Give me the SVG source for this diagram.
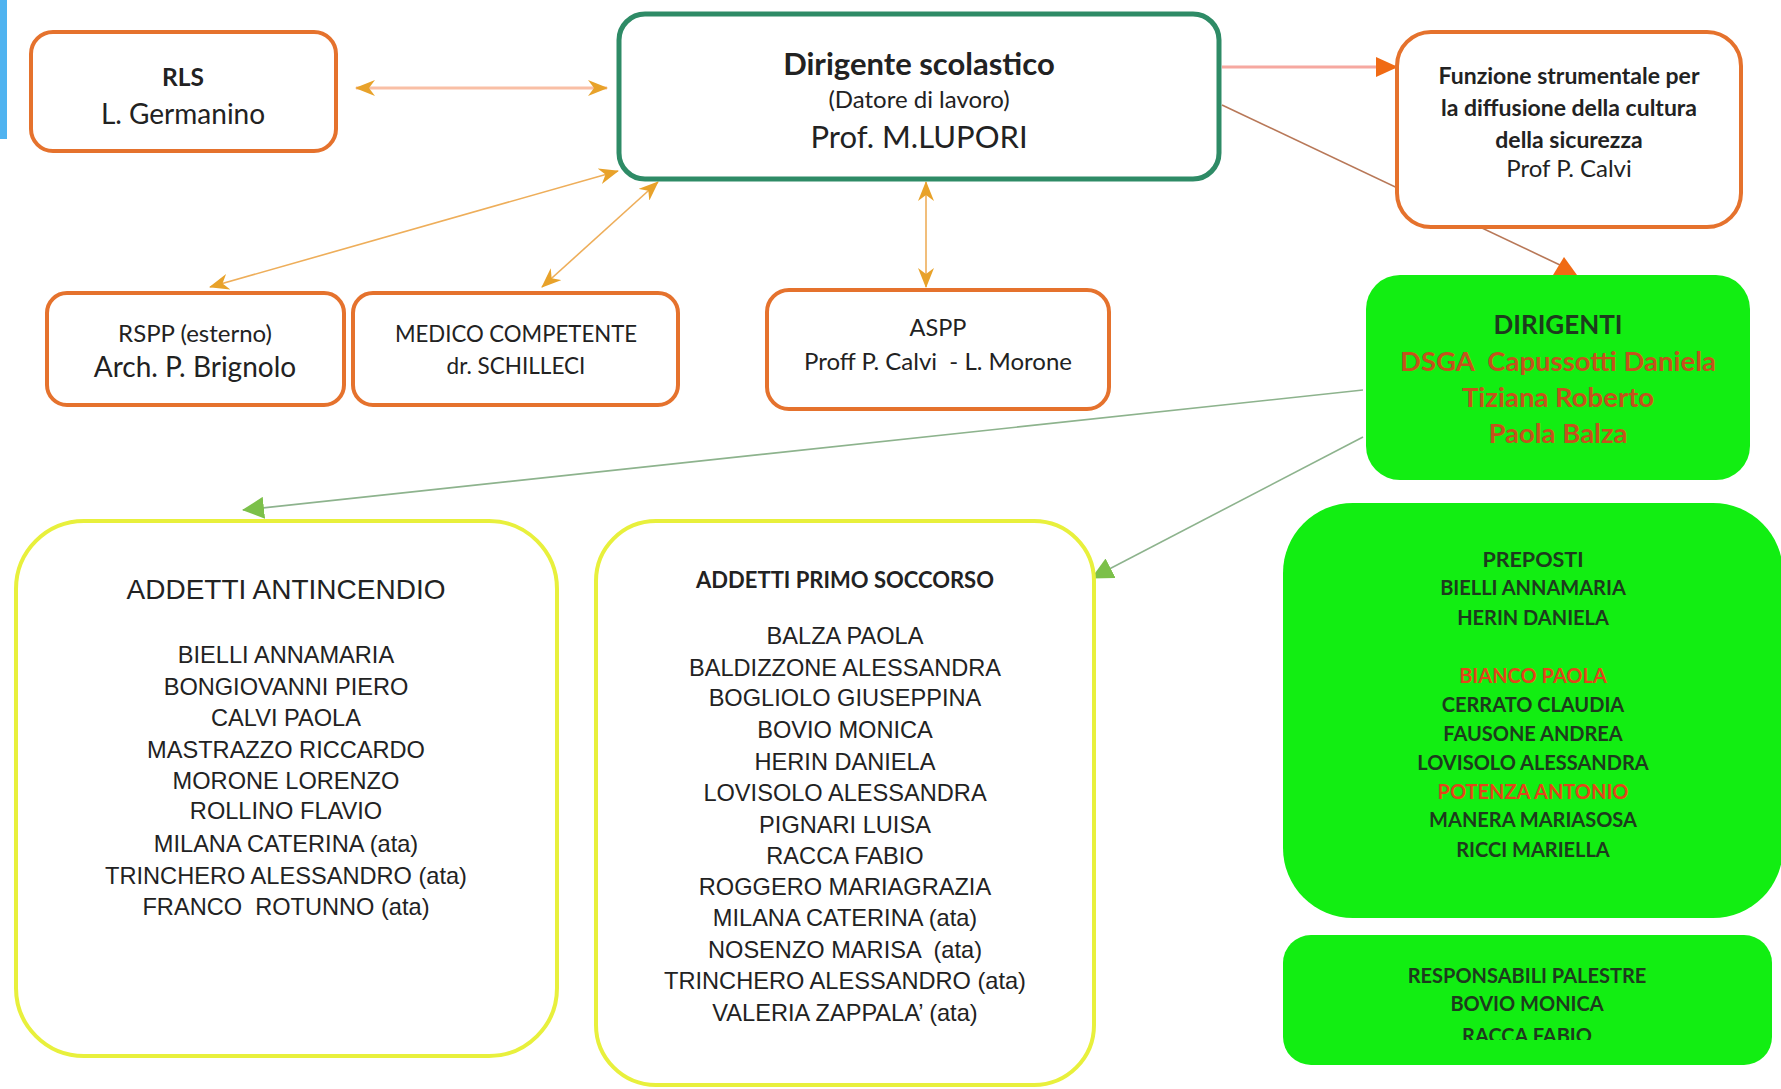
<svg xmlns="http://www.w3.org/2000/svg" width="1781" height="1089" viewBox="0 0 1781 1089">
<defs>
<style>
.cal{font-family:Lato,"Liberation Sans",sans-serif;fill:#222;text-anchor:middle}
.ari{font-family:"Liberation Sans",Arial,sans-serif;fill:#222;text-anchor:middle}
.b{font-weight:bold}
.ob{fill:#fff;stroke:#e5722d;stroke-width:4}
.yb{fill:#fff;stroke:#e8f03c;stroke-width:4}
.gb{fill:#12ee12;stroke:none}
.gt{fill:#1d3b1d}
.rt{fill:#c4521c}
.pt{fill:#e2451a}
.oa{stroke:#eeae5a;stroke-width:1.6;fill:none}
.ga{stroke:#8db38d;stroke-width:1.6;fill:none}
</style>
<marker id="arrO" markerUnits="userSpaceOnUse" markerWidth="20" markerHeight="16" refX="19" refY="8" orient="auto-start-reverse" viewBox="0 0 20 16">
<path d="M0,0 L20,8 L0,16 L6,8 z" fill="#e8a22a"/>
</marker>
<marker id="triO" markerUnits="userSpaceOnUse" markerWidth="22" markerHeight="20" refX="21" refY="10" orient="auto" viewBox="0 0 22 20">
<path d="M0,0 L22,10 L0,20 z" fill="#f06a14"/>
</marker>
<marker id="triG" markerUnits="userSpaceOnUse" markerWidth="22" markerHeight="22" refX="21" refY="11" orient="auto" viewBox="0 0 22 22">
<path d="M0,0 L22,11 L0,22 z" fill="#7cc04a"/>
</marker>
<clipPath id="clipResp"><rect x="1283" y="935" width="489" height="105"/></clipPath>
</defs>
<rect width="1781" height="1089" fill="#fff"/>
<rect x="0" y="0" width="7" height="139" fill="#4fb3f0"/>

<g id="connectors">
<line x1="356" y1="88" x2="607" y2="88" stroke="#f9bfa5" stroke-width="3" marker-start="url(#arrO)" marker-end="url(#arrO)"/>
<line class="oa" x1="210" y1="287" x2="618" y2="171" marker-start="url(#arrO)" marker-end="url(#arrO)"/>
<line class="oa" x1="542" y1="287" x2="658" y2="182" marker-start="url(#arrO)" marker-end="url(#arrO)"/>
<line class="oa" x1="926" y1="287" x2="926" y2="182" marker-start="url(#arrO)" marker-end="url(#arrO)"/>
<line x1="1222" y1="67" x2="1397" y2="67" stroke="#f6a8a0" stroke-width="3" marker-end="url(#triO)"/>
<line x1="1222" y1="105" x2="1560" y2="265" stroke="#b87858" stroke-width="1.6"/>
<polygon points="1553,275 1564,257 1577,275" fill="#f06a14"/>
<line class="ga" x1="1363" y1="390" x2="243" y2="510" marker-end="url(#triG)"/>
<line class="ga" x1="1363" y1="437" x2="1092" y2="578" marker-end="url(#triG)"/>
</g>

<g id="rls">
<rect class="ob" x="31" y="32" width="305" height="119" rx="22"/>
<text class="cal b" x="183" y="86" font-size="24.5">RLS</text>
<text class="cal" x="183" y="124" font-size="28">L. Germanino</text>
</g>

<g id="dirigente">
<rect x="619" y="14" width="600" height="165" rx="26" fill="#fff" stroke="#2e8b66" stroke-width="5"/>
<text class="cal b" x="919" y="75" font-size="31">Dirigente scolastico</text>
<text class="cal" x="919" y="108" font-size="24">(Datore di lavoro)</text>
<text class="cal" x="919" y="148" font-size="31">Prof. M.LUPORI</text>
</g>

<g id="funzione">
<rect class="ob" x="1397" y="32" width="344" height="195" rx="34"/>
<text class="cal b" x="1569" y="84" font-size="23">Funzione strumentale per</text>
<text class="cal b" x="1569" y="116" font-size="23">la diffusione della cultura</text>
<text class="cal b" x="1569" y="148" font-size="23">della sicurezza</text>
<text class="cal" x="1569" y="177" font-size="24">Prof P. Calvi</text>
</g>

<g id="rspp">
<rect class="ob" x="47" y="293" width="297" height="112" rx="20"/>
<text class="cal" x="195" y="342" font-size="24">RSPP (esterno)</text>
<text class="cal" x="195" y="377" font-size="28">Arch. P. Brignolo</text>
</g>

<g id="medico">
<rect class="ob" x="353" y="293" width="325" height="112" rx="20"/>
<text class="cal" x="516" y="342" font-size="22.2">MEDICO COMPETENTE</text>
<text class="cal" x="516" y="374" font-size="22.5">dr. SCHILLECI</text>
</g>

<g id="aspp">
<rect class="ob" x="767" y="290" width="342" height="119" rx="22"/>
<text class="cal" x="938" y="336" font-size="23.5">ASPP</text>
<text class="cal" x="938" y="370" font-size="24" xml:space="preserve">Proff P. Calvi  - L. Morone</text>
</g>

<g id="dirigenti">
<rect class="gb" x="1366" y="275" width="384" height="205" rx="34"/>
<text class="cal b gt" x="1558" y="334" font-size="26">DIRIGENTI</text>
<text class="cal b rt" x="1558" y="371" font-size="27.5" xml:space="preserve">DSGA  Capussotti Daniela</text>
<text class="cal b rt" x="1558" y="407" font-size="27.5">Tiziana Roberto</text>
<text class="cal b rt" x="1558" y="443" font-size="27.5">Paola Balza</text>
</g>

<g id="antincendio">
<rect class="yb" x="16" y="521" width="541" height="535" rx="68"/>
<text class="ari" x="286" y="599" font-size="28">ADDETTI ANTINCENDIO</text>
<g class="ari" font-size="23.6">
<text x="286" y="663">BIELLI ANNAMARIA</text>
<text x="286" y="695">BONGIOVANNI PIERO</text>
<text x="286" y="726">CALVI PAOLA</text>
<text x="286" y="758">MASTRAZZO RICCARDO</text>
<text x="286" y="789">MORONE LORENZO</text>
<text x="286" y="819">ROLLINO FLAVIO</text>
<text x="286" y="852">MILANA CATERINA (ata)</text>
<text x="286" y="884">TRINCHERO ALESSANDRO (ata)</text>
<text x="286" y="915" xml:space="preserve">FRANCO  ROTUNNO (ata)</text>
</g>
</g>

<g id="primosoccorso">
<rect class="yb" x="596" y="521" width="498" height="564" rx="60"/>
<text class="cal b" x="845" y="588" font-size="22">ADDETTI PRIMO SOCCORSO</text>
<g class="ari" font-size="23.6">
<text x="845" y="644">BALZA PAOLA</text>
<text x="845" y="676">BALDIZZONE ALESSANDRA</text>
<text x="845" y="706">BOGLIOLO GIUSEPPINA</text>
<text x="845" y="738">BOVIO MONICA</text>
<text x="845" y="770">HERIN DANIELA</text>
<text x="845" y="801">LOVISOLO ALESSANDRA</text>
<text x="845" y="833">PIGNARI LUISA</text>
<text x="845" y="864">RACCA FABIO</text>
<text x="845" y="895">ROGGERO MARIAGRAZIA</text>
<text x="845" y="926">MILANA CATERINA (ata)</text>
<text x="845" y="958" xml:space="preserve">NOSENZO MARISA  (ata)</text>
<text x="845" y="989">TRINCHERO ALESSANDRO (ata)</text>
<text x="845" y="1021">VALERIA ZAPPALA’ (ata)</text>
</g>
</g>

<g id="preposti">
<rect class="gb" x="1283" y="503" width="500" height="415" rx="70"/>
<g class="cal b" font-size="20">
<text class="gt" x="1533" y="567" font-size="21.5">PREPOSTI</text>
<text class="gt" x="1533" y="595">BIELLI ANNAMARIA</text>
<text class="gt" x="1533" y="625">HERIN DANIELA</text>
<text class="pt" x="1533" y="683">BIANCO PAOLA</text>
<text class="gt" x="1533" y="712">CERRATO CLAUDIA</text>
<text class="gt" x="1533" y="741">FAUSONE ANDREA</text>
<text class="gt" x="1533" y="770">LOVISOLO ALESSANDRA</text>
<text class="pt" x="1533" y="799">POTENZA ANTONIO</text>
<text class="gt" x="1533" y="827">MANERA MARIASOSA</text>
<text class="gt" x="1533" y="857">RICCI MARIELLA</text>
</g>
</g>

<g id="responsabili">
<rect class="gb" x="1283" y="935" width="489" height="130" rx="28"/>
<g class="cal b" font-size="20">
<text class="gt" x="1527" y="983">RESPONSABILI PALESTRE</text>
<text class="gt" x="1527" y="1011">BOVIO MONICA</text>
<text class="gt" x="1527" y="1043" clip-path="url(#clipResp)">RACCA FABIO</text>
</g>
</g>
</svg>
